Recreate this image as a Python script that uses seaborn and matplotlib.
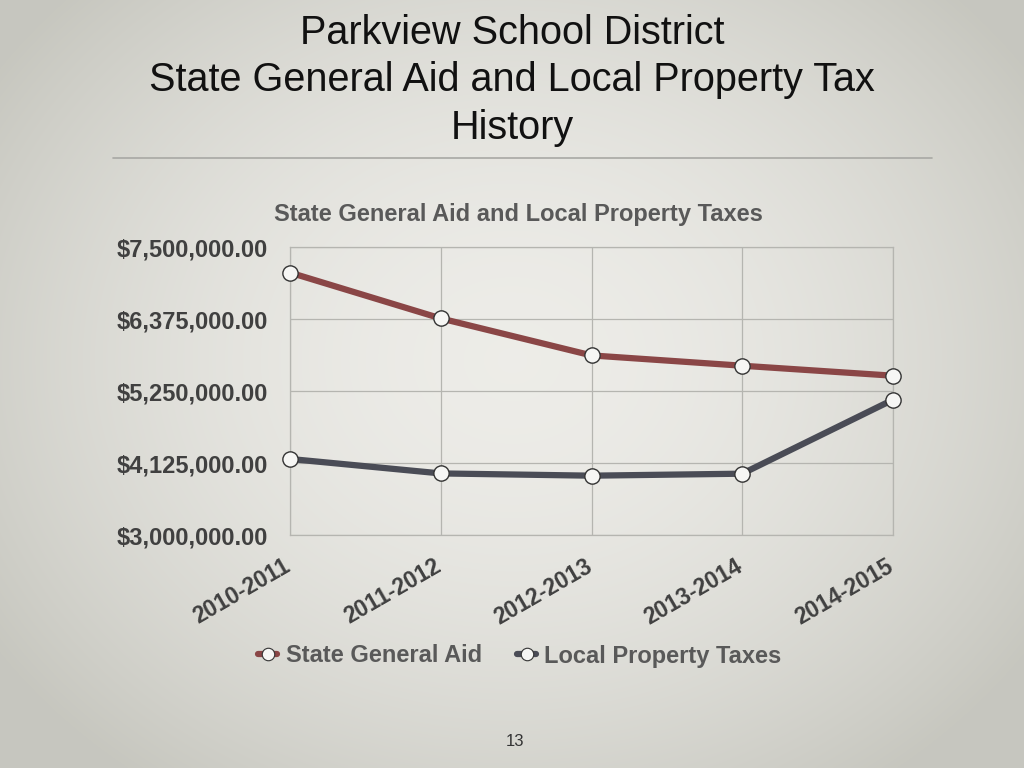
import numpy as np
import pandas as pd
import matplotlib
matplotlib.use("Agg")
import matplotlib.pyplot as plt
import seaborn as sns
from matplotlib.ticker import FixedLocator, FuncFormatter
from matplotlib.lines import Line2D
from matplotlib.transforms import ScaledTranslation

years = ["2010-2011", "2011-2012", "2012-2013", "2013-2014", "2014-2015"]
state_aid = [7100000, 6384000, 5806000, 5645000, 5489000]
local_tax = [4188000, 3962000, 3927000, 3958000, 5114000]
series_names = ["State General Aid", "Local Property Taxes"]
y_ticks = [3000000, 4125000, 5250000, 6375000, 7500000]

df = pd.DataFrame({
    "Year": years * 2,
    "Amount": state_aid + local_tax,
    "Series": [series_names[0]] * len(years) + [series_names[1]] * len(years),
})

sns.set_theme(style="white")
plt.rcParams["font.family"] = ["Liberation Sans", "DejaVu Sans"]

fig = plt.figure(figsize=(10.24, 7.68), dpi=100)

# background radial gradient
bg = fig.add_axes([0, 0, 1, 1], zorder=-10)
yy, xx = np.mgrid[0:768, 0:1024]
r = np.sqrt(((xx - 512) / 620.0) ** 2 + ((yy - 360) / 520.0) ** 2)
c_in = np.array([0.93, 0.927, 0.91])
c_out = np.array([0.78, 0.78, 0.75])
t = np.clip(r, 0, 1) ** 1.8
img = c_in[None, None, :] * (1 - t[..., None]) + c_out[None, None, :] * t[..., None]
bg.imshow(img, aspect="auto", extent=[0, 1, 0, 1])
bg.axis("off")

# slide title
for txt, yp in [("Parkview School District", 33),
                ("State General Aid and Local Property Tax", 80),
                ("History", 128)]:
    fig.text(0.5, 1 - yp / 768, txt, ha="center", va="center",
             fontsize=28.5, color="#111111")
fig.add_artist(Line2D([113 / 1024, 932 / 1024], [1 - 158 / 768] * 2,
                      color="#a8a8a4", lw=1.2))
fig.text(515 / 1024, 1 - 741 / 768, "13", ha="center", va="center",
         fontsize=12, color="#333333")

ax = fig.add_axes([290 / 1024, 1 - 535 / 768, 603 / 1024, 288 / 768])
ax.set_facecolor("none")
palette = {series_names[0]: "#8a4646", series_names[1]: "#4a4c56"}
sns.lineplot(data=df, x="Year", y="Amount", hue="Series", palette=palette,
             marker="o", markersize=11, markerfacecolor="#f6f6f4",
             markeredgecolor="#333333", markeredgewidth=1.0,
             linewidth=4.5, ax=ax, sort=False, legend=False)
for ln in ax.lines:
    ln.set_clip_on(False)
    ln.set_zorder(4)

ax.set_xlim(0, len(years) - 1)
ax.set_ylim(3000000, 7500000)
ax.yaxis.set_major_locator(FixedLocator(y_ticks))
ax.yaxis.set_major_formatter(FuncFormatter(lambda v, p: f"${v:,.2f}"))
ax.grid(True, color="#b5b5b0", lw=0.9)
for s in ax.spines.values():
    s.set_color("#b5b5b0")
    s.set_linewidth(0.9)
ax.set_xlabel("")
ax.set_ylabel("")
ax.tick_params(axis="y", length=0, pad=16, labelsize=17, labelcolor="#404040")
ax.tick_params(axis="x", length=0, pad=14, labelsize=16.5, labelcolor="#404040")
for lab in ax.get_yticklabels():
    lab.set_fontweight("bold")
shift = ScaledTranslation(-5 / 72, 0, fig.dpi_scale_trans)
for lab in ax.get_xticklabels():
    lab.set_fontweight("bold")
    lab.set_rotation(30)
    lab.set_ha("right")
    lab.set_rotation_mode("anchor")
    lab.set_transform(lab.get_transform() + shift)

fig.text(518 / 1024, 1 - 214 / 768, "State General Aid and Local Property Taxes",
         ha="center", va="center", fontsize=17, fontweight="bold", color="#595959")

handles = [Line2D([], [], color=palette[n], lw=4.5, marker="o", markersize=9,
                  markerfacecolor="#f6f6f4", markeredgecolor="#333333",
                  markeredgewidth=0.8) for n in series_names]
leg = fig.legend(handles, series_names, loc="center", ncol=2,
                 bbox_to_anchor=(520 / 1024, 1 - 656 / 768), frameon=False,
                 handlelength=0.8, handletextpad=0.35, columnspacing=1.5,
                 prop={"size": 17, "weight": "bold"})
for t_ in leg.get_texts():
    t_.set_color("#595959")

fig.savefig("out.png", dpi=100)
